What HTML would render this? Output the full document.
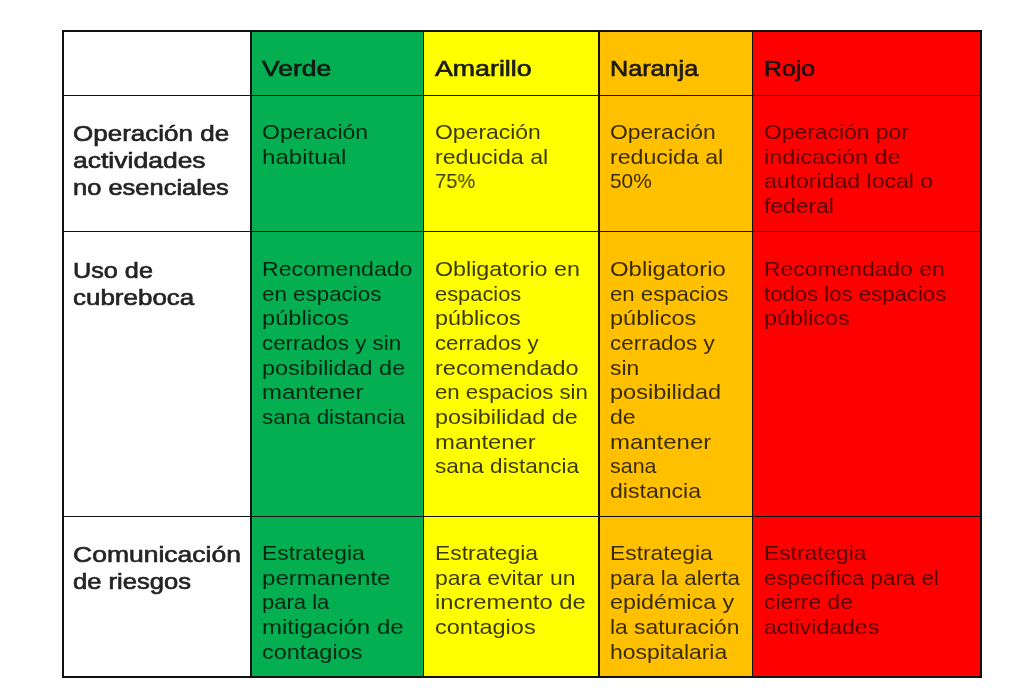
<!DOCTYPE html>
<html><head><meta charset="utf-8">
<style>
html,body{margin:0;padding:0;background:#fff;width:1024px;height:700px;overflow:hidden;position:relative}
.bg{position:absolute}
.ln{position:absolute;background:#111}
.t{position:absolute;white-space:nowrap;will-change:transform;font-family:"Liberation Sans",sans-serif;transform-origin:0 0}
.b{font-size:20.6px;color:rgba(0,0,0,0.78)}
.h{font-size:21.6px;color:rgba(18,18,18,0.95);-webkit-text-stroke:0.65px rgba(18,18,18,0.95)}
.rb{color:rgba(0,0,0,0.66)}
.rh{font-size:21.8px;color:rgba(25,25,25,0.95);-webkit-text-stroke:0.65px rgba(25,25,25,0.95)}
</style></head><body>
<div class="bg" style="left:251px;top:31px;width:172px;height:646px;background:#03af50"></div>
<div class="bg" style="left:423px;top:31px;width:176px;height:646px;background:#ffff00"></div>
<div class="bg" style="left:599px;top:31px;width:153px;height:646px;background:#ffc000"></div>
<div class="bg" style="left:752px;top:31px;width:229px;height:646px;background:#ff0000"></div>
<div class="ln" style="left:62px;top:30px;width:920px;height:2px"></div>
<div class="ln" style="left:62px;top:676px;width:920px;height:2px"></div>
<div class="ln" style="left:62px;top:30px;width:2px;height:648px"></div>
<div class="ln" style="left:980px;top:30px;width:2px;height:648px"></div>
<div class="ln" style="left:62px;top:95.0px;width:920px;height:1.15px"></div>
<div class="ln" style="left:62px;top:231.0px;width:920px;height:1.25px"></div>
<div class="ln" style="left:62px;top:515.7px;width:920px;height:1.25px"></div>
<div class="ln" style="left:250.3px;top:30px;width:1.25px;height:648px"></div>
<div class="ln" style="left:422.9px;top:30px;width:1.15px;height:648px"></div>
<div class="ln" style="left:598.3px;top:30px;width:1.25px;height:648px"></div>
<div class="ln" style="left:751.7px;top:30px;width:1.25px;height:648px"></div>
<div class="t b" style="left:261.50px;top:119.19px;line-height:25.75px;transform:scaleX(1.1172)">Operación</div>
<div class="t b" style="left:261.50px;top:143.84px;line-height:25.75px;transform:scaleX(1.1692)">habitual</div>
<div class="t b" style="left:434.80px;top:119.19px;line-height:25.75px;transform:scaleX(1.1144)">Operación</div>
<div class="t b" style="left:434.80px;top:143.84px;line-height:25.75px;transform:scaleX(1.1233)">reducida al</div>
<div class="t b" style="left:434.80px;top:168.49px;line-height:25.75px;transform:scaleX(0.9751)">75%</div>
<div class="t b" style="left:609.70px;top:119.19px;line-height:25.75px;transform:scaleX(1.1132)">Operación</div>
<div class="t b" style="left:609.70px;top:143.84px;line-height:25.75px;transform:scaleX(1.1239)">reducida al</div>
<div class="t b" style="left:609.70px;top:168.49px;line-height:25.75px;transform:scaleX(1.0139)">50%</div>
<div class="t b rb" style="left:763.50px;top:119.19px;line-height:25.75px;transform:scaleX(1.1104)">Operación por</div>
<div class="t b rb" style="left:763.50px;top:143.84px;line-height:25.75px;transform:scaleX(1.1353)">indicación de</div>
<div class="t b rb" style="left:763.50px;top:168.49px;line-height:25.75px;transform:scaleX(1.1194)">autoridad local o</div>
<div class="t b rb" style="left:763.50px;top:193.14px;line-height:25.75px;transform:scaleX(1.1093)">federal</div>
<div class="t b" style="left:261.50px;top:256.19px;line-height:25.75px;transform:scaleX(1.1235)">Recomendado</div>
<div class="t b" style="left:261.50px;top:280.84px;line-height:25.75px;transform:scaleX(1.0857)">en espacios</div>
<div class="t b" style="left:261.50px;top:305.49px;line-height:25.75px;transform:scaleX(1.1495)">públicos</div>
<div class="t b" style="left:261.50px;top:330.14px;line-height:25.75px;transform:scaleX(1.0857)">cerrados y sin</div>
<div class="t b" style="left:261.50px;top:354.79px;line-height:25.75px;transform:scaleX(1.1366)">posibilidad de</div>
<div class="t b" style="left:261.50px;top:379.44px;line-height:25.75px;transform:scaleX(1.1664)">mantener</div>
<div class="t b" style="left:261.50px;top:404.09px;line-height:25.75px;transform:scaleX(1.0847)">sana distancia</div>
<div class="t b" style="left:434.80px;top:256.19px;line-height:25.75px;transform:scaleX(1.1296)">Obligatorio en</div>
<div class="t b" style="left:434.80px;top:280.84px;line-height:25.75px;transform:scaleX(1.0618)">espacios</div>
<div class="t b" style="left:434.80px;top:305.49px;line-height:25.75px;transform:scaleX(1.1332)">públicos</div>
<div class="t b" style="left:434.80px;top:330.14px;line-height:25.75px;transform:scaleX(1.0782)">cerrados y</div>
<div class="t b" style="left:434.80px;top:354.79px;line-height:25.75px;transform:scaleX(1.1402)">recomendado</div>
<div class="t b" style="left:434.80px;top:379.44px;line-height:25.75px;transform:scaleX(1.0763)">en espacios sin</div>
<div class="t b" style="left:434.80px;top:404.09px;line-height:25.75px;transform:scaleX(1.1335)">posibilidad de</div>
<div class="t b" style="left:434.80px;top:428.74px;line-height:25.75px;transform:scaleX(1.1586)">mantener</div>
<div class="t b" style="left:434.80px;top:453.39px;line-height:25.75px;transform:scaleX(1.0940)">sana distancia</div>
<div class="t b" style="left:609.70px;top:256.19px;line-height:25.75px;transform:scaleX(1.1624)">Obligatorio</div>
<div class="t b" style="left:609.70px;top:280.84px;line-height:25.75px;transform:scaleX(1.0765)">en espacios</div>
<div class="t b" style="left:609.70px;top:305.49px;line-height:25.75px;transform:scaleX(1.1415)">públicos</div>
<div class="t b" style="left:609.70px;top:330.14px;line-height:25.75px;transform:scaleX(1.0896)">cerrados y</div>
<div class="t b" style="left:609.70px;top:354.79px;line-height:25.75px;transform:scaleX(1.1082)">sin</div>
<div class="t b" style="left:609.70px;top:379.44px;line-height:25.75px;transform:scaleX(1.1417)">posibilidad</div>
<div class="t b" style="left:609.70px;top:404.09px;line-height:25.75px;transform:scaleX(1.1213)">de</div>
<div class="t b" style="left:609.70px;top:428.74px;line-height:25.75px;transform:scaleX(1.1629)">mantener</div>
<div class="t b" style="left:609.70px;top:453.39px;line-height:25.75px;transform:scaleX(1.0405)">sana</div>
<div class="t b" style="left:609.70px;top:478.04px;line-height:25.75px;transform:scaleX(1.1203)">distancia</div>
<div class="t b rb" style="left:763.50px;top:256.19px;line-height:25.75px;transform:scaleX(1.1110)">Recomendado en</div>
<div class="t b rb" style="left:763.50px;top:280.84px;line-height:25.75px;transform:scaleX(1.0754)">todos los espacios</div>
<div class="t b rb" style="left:763.50px;top:305.49px;line-height:25.75px;transform:scaleX(1.1341)">públicos</div>
<div class="t b" style="left:261.50px;top:540.19px;line-height:25.75px;transform:scaleX(1.1084)">Estrategia</div>
<div class="t b" style="left:261.50px;top:564.84px;line-height:25.75px;transform:scaleX(1.1693)">permanente</div>
<div class="t b" style="left:261.50px;top:589.49px;line-height:25.75px;transform:scaleX(1.0700)">para la</div>
<div class="t b" style="left:261.50px;top:614.14px;line-height:25.75px;transform:scaleX(1.1671)">mitigación de</div>
<div class="t b" style="left:261.50px;top:638.79px;line-height:25.75px;transform:scaleX(1.1383)">contagios</div>
<div class="t b" style="left:434.80px;top:540.19px;line-height:25.75px;transform:scaleX(1.1107)">Estrategia</div>
<div class="t b" style="left:434.80px;top:564.84px;line-height:25.75px;transform:scaleX(1.1153)">para evitar un</div>
<div class="t b" style="left:434.80px;top:589.49px;line-height:25.75px;transform:scaleX(1.1555)">incremento de</div>
<div class="t b" style="left:434.80px;top:614.14px;line-height:25.75px;transform:scaleX(1.1415)">contagios</div>
<div class="t b" style="left:609.70px;top:540.19px;line-height:25.75px;transform:scaleX(1.1089)">Estrategia</div>
<div class="t b" style="left:609.70px;top:564.84px;line-height:25.75px;transform:scaleX(1.0812)">para la alerta</div>
<div class="t b" style="left:609.70px;top:589.49px;line-height:25.75px;transform:scaleX(1.1306)">epidémica y</div>
<div class="t b" style="left:609.70px;top:614.14px;line-height:25.75px;transform:scaleX(1.1085)">la saturación</div>
<div class="t b" style="left:609.70px;top:638.79px;line-height:25.75px;transform:scaleX(1.1129)">hospitalaria</div>
<div class="t b rb" style="left:763.50px;top:540.19px;line-height:25.75px;transform:scaleX(1.1049)">Estrategia</div>
<div class="t b rb" style="left:763.50px;top:564.84px;line-height:25.75px;transform:scaleX(1.0831)">específica para el</div>
<div class="t b rb" style="left:763.50px;top:589.49px;line-height:25.75px;transform:scaleX(1.1088)">cierre de</div>
<div class="t b rb" style="left:763.50px;top:614.14px;line-height:25.75px;transform:scaleX(1.1177)">actividades</div>
<div class="t h" style="left:262.00px;top:55.22px;line-height:27.0px;transform:scaleX(1.2269)">Verde</div>
<div class="t h" style="left:435.00px;top:55.22px;line-height:27.0px;transform:scaleX(1.2387)">Amarillo</div>
<div class="t h" style="left:610.00px;top:55.22px;line-height:27.0px;transform:scaleX(1.1658)">Naranja</div>
<div class="t h" style="left:764.20px;top:55.22px;line-height:27.0px;transform:scaleX(1.1474)">Rojo</div>
<div class="t rh" style="left:73.30px;top:119.82px;line-height:27.25px;transform:scaleX(1.1933)">Operación de</div>
<div class="t rh" style="left:73.30px;top:147.02px;line-height:27.25px;transform:scaleX(1.2162)">actividades</div>
<div class="t rh" style="left:73.30px;top:174.22px;line-height:27.25px;transform:scaleX(1.1692)">no esenciales</div>
<div class="t rh" style="left:73.30px;top:256.92px;line-height:27.25px;transform:scaleX(1.1574)">Uso de</div>
<div class="t rh" style="left:73.30px;top:284.12px;line-height:27.25px;transform:scaleX(1.1912)">cubreboca</div>
<div class="t rh" style="left:73.30px;top:541.02px;line-height:27.25px;transform:scaleX(1.2161)">Comunicación</div>
<div class="t rh" style="left:73.30px;top:568.22px;line-height:27.25px;transform:scaleX(1.1738)">de riesgos</div>
</body></html>
